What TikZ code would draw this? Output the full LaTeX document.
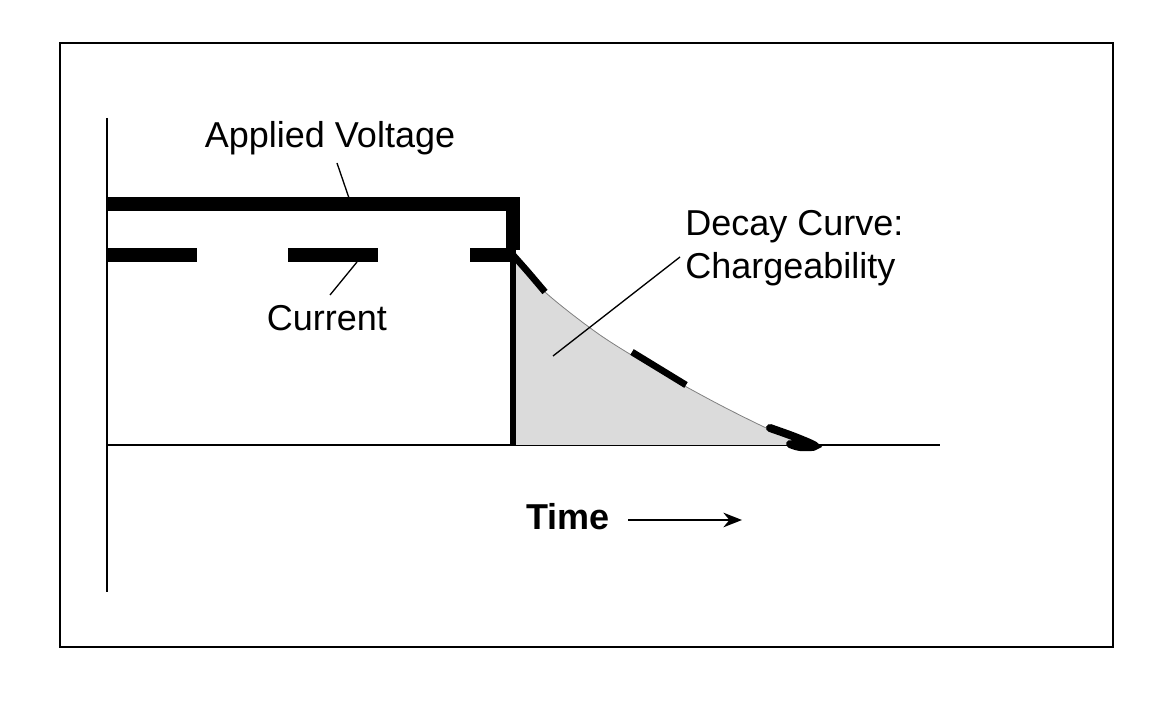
\documentclass[tikz,border=0pt]{standalone}
\usepackage{fontspec}
\setmainfont{Liberation Sans}
\usetikzlibrary{arrows.meta}
\begin{document}
\begin{tikzpicture}[x=0.75pt,y=-0.75pt,
  lbl/.style={font=\fontsize{27}{32}\selectfont,inner sep=0pt},
  thick line/.style={line width=10.5pt},
  leader/.style={line width=1pt}]
\useasboundingbox (0,0) rectangle (1161,705);
\draw[line width=1.5pt] (60,43) rectangle (1113,647);
% axes
\coordinate (ytop) at (107,118); \coordinate (ybot) at (107,592);
\coordinate (xl) at (107,445); \coordinate (xr) at (940,445);
\draw[line width=1pt] (ytop) -- (ybot);
\draw[line width=1pt] (xl) -- (xr);
% decay fill
\coordinate (d0) at (513,255); \coordinate (dend) at (812,445); \coordinate (dbase) at (513,445);
\fill[gray!28] plot[smooth] coordinates {(513,255) (545,292) (600,335) (660,372) (720,405) (775,432) (812,445)} -- (dbase) -- cycle;
\draw[line width=0.6pt,gray] plot[smooth] coordinates {(513,255) (545,292) (600,335) (660,372) (720,405) (775,432) (812,445)};
% voltage
\draw[thick line] (107,204) -- (513,204) -- (513,250);
\draw[line width=4pt] (513,250) -- (dbase);
% current dashes
\draw[thick line] (107,255) -- (197,255);
\draw[thick line] (288,255) -- (378,255);
\draw[thick line] (470,255) -- (513,255);
% decay dashes
\draw[line width=5pt] plot[smooth] coordinates {(513,255) (528,272) (545,292)};
\draw[line width=5pt] (632,352) -- (686,385);
\draw[line width=6pt,line cap=round] plot[smooth] coordinates {(770,428) (795,437) (815,446) (800,447) (790,444)};
% labels
\node[lbl] (av) at (330,138) {Applied Voltage};
\draw[leader] (337,163) -- (350,201);
\node[lbl] (cur) at (327,318) {Current};
\draw[leader] (330,295) -- (357,262);
\node[lbl,align=left,anchor=west] (dc) at (685,248) {Decay Curve:\\Chargeability};
\draw[leader] (553,356) -- (680,257);
\node[lbl,font=\fontsize{27}{32}\selectfont\bfseries] (time) at (568,517) {Time};
\coordinate (ta) at (628,520); \coordinate (tb) at (742,520);
\draw[line width=1pt,-{Stealth[length=14pt,width=11pt]}] (ta) -- (tb);
\end{tikzpicture}
\end{document}
